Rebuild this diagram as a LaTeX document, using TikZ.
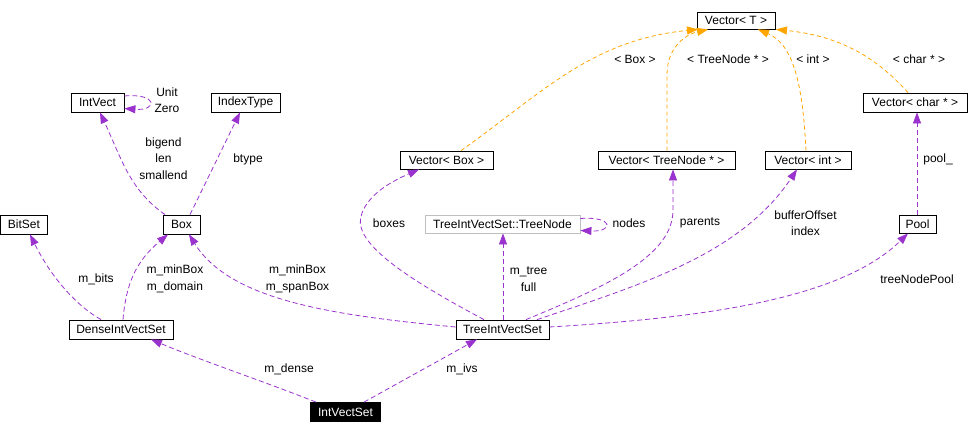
\documentclass[tikz,border=0pt]{standalone}
\usepackage{fontspec}
\setmainfont{Liberation Sans}
\usetikzlibrary{arrows.meta}
\definecolor{edgepurple}{HTML}{9A32CD}
\definecolor{edgeorange}{HTML}{FFA500}
\definecolor{graybox}{HTML}{BFBFBF}
\begin{document}
\begin{tikzpicture}[x=1pt,y=-1pt,
  cls/.style={draw, rectangle, inner sep=0pt, minimum height=19pt, line width=0.8pt, font=\fontsize{12}{14}\selectfont},
  lbl/.style={inner sep=0pt, align=center, font=\fontsize{12}{16.5}\selectfont},
  usearrow/.style={draw=edgepurple, line width=0.8pt, dash pattern=on 5pt off 3pt, -{Triangle[length=11pt,width=8pt]}},
  tmplarrow/.style={draw=edgeorange, line width=0.8pt, dash pattern=on 4pt off 3pt, -{Triangle[length=11pt,width=8pt]}}]
\useasboundingbox (0,0) rectangle (980,434);
% class nodes
\node[cls, minimum width=53pt] (intvect) at (97.5,102.5) {IntVect};
\node[cls, minimum width=69pt] (indextype) at (245.5,102.5) {IndexType};
\node[cls, minimum width=37pt] (box) at (181.5,224.5) {Box};
\node[cls, minimum width=47pt] (bitset) at (24,224.5) {BitSet};
\node[cls, minimum width=104pt] (dense) at (121,329.5) {DenseIntVectSet};
\node[cls, minimum width=70pt, fill=black, text=white] (ivs) at (345.5,412) {IntVectSet};
\node[cls, minimum width=93pt] (tree) at (502.5,329.5) {TreeIntVectSet};
\node[cls, minimum width=155pt, draw=graybox, minimum height=18pt] (treenode) at (502.5,224) {TreeIntVectSet::TreeNode};
\node[cls, minimum width=93pt, minimum height=18pt] (vecbox) at (446.5,160) {Vector< Box >};
\node[cls, minimum width=137pt, minimum height=18pt] (vectn) at (666.5,160) {Vector< TreeNode * >};
\node[cls, minimum width=86pt, minimum height=18pt] (vecint) at (808,160) {Vector< int >};
\node[cls, minimum width=78pt, minimum height=17pt] (vect) at (736,20.5) {Vector< T >};
\node[cls, minimum width=104pt] (vecchar) at (915,102.5) {Vector< char * >};
\node[cls, minimum width=37pt, minimum height=18pt] (pool) at (917.5,224) {Pool};
% usage edges
\draw[usearrow] (intvect.north east |- 0,96) .. controls (158,93) and (158,111) .. (intvect.south east |- 0,108.5);
\draw[usearrow] (box.north -| 165,0) .. controls (130,190) and (122,160) .. (intvect.south -| 100,0);
\draw[usearrow] (box.north -| 190,0) -- (indextype.south -| 240,0);
\draw[usearrow] (dense.north -| 101,0) .. controls (75,305) and (50,275) .. (bitset.south -| 30,0);
\draw[usearrow] (dense.north -| 123,0) .. controls (126,285) and (135,262) .. (box.south -| 168,0);
\draw[usearrow] (tree.west |- 0,327) .. controls (330,315) and (230,300) .. (box.south -| 189,0);
\draw[usearrow] (ivs.north -| 316,0) .. controls (260,380) and (200,360) .. (dense.south -| 151,0);
\draw[usearrow] (ivs.north -| 364,0) -- (tree.south -| 477,0);
\draw[usearrow] (tree.north -| 484,0) .. controls (400,275) and (350,240) .. (362,213) .. controls (370,192) and (395,180) .. (vecbox.south -| 419,0);
\draw[usearrow] (tree.north -| 503,0) -- (treenode.south -| 503,0);
\draw[usearrow] (treenode.east |- 0,218.5) .. controls (614,216) and (614,232) .. (treenode.east |- 0,230.5);
\draw[usearrow] (tree.north -| 526,0) .. controls (610,285) and (673,255) .. (673,210) -- (vectn.south -| 673,0);
\draw[usearrow] (tree.north -| 537,0) .. controls (640,285) and (740,255) .. (vecint.south -| 797,0);
\draw[usearrow] (tree.east |- 0,327) .. controls (700,318) and (840,300) .. (pool.south -| 908,0);
\draw[usearrow] (pool.north -| 917,0) -- (vecchar.south -| 917,0);
% template edges
\draw[tmplarrow] (vecbox.north -| 461,0) .. controls (540,95) and (590,40) .. (vect.south -| 698,0);
\draw[tmplarrow] (vectn.north -| 667,0) -- (667,75) .. controls (667,45) and (688,34) .. (vect.south -| 708,0);
\draw[tmplarrow] (vecint.north -| 806,0) .. controls (803,90) and (795,45) .. (vect.south -| 758,0);
\draw[tmplarrow] (vecchar.north -| 908,0) .. controls (870,50) and (830,35) .. (vect.south -| 776,0);
% labels
\node[lbl] (l1) at (167,100) {Unit\\Zero};
\node[lbl] (l2) at (163.5,158.5) {bigend\\len\\smallend};
\node[lbl] (l3) at (248,159) {btype};
\node[lbl] (l4) at (96,279) {m\_bits};
\node[lbl] (l5) at (175,279) {m\_minBox\\m\_domain};
\node[lbl] (l6) at (297.5,279) {m\_minBox\\m\_spanBox};
\node[lbl] (l7) at (289,369) {m\_dense};
\node[lbl] (l8) at (462,369) {m\_ivs};
\node[lbl] (l9) at (389,223) {boxes};
\node[lbl] (l10) at (528.5,279) {m\_tree\\full};
\node[lbl] (l11) at (629,223) {nodes};
\node[lbl] (l12) at (700,223) {parents};
\node[lbl] (l13) at (805.5,223) {bufferOffset\\index};
\node[lbl] (l14) at (917,279) {treeNodePool};
\node[lbl] (l15) at (938,159) {pool\_};
\node[lbl] (l16) at (635,59) {< Box >};
\node[lbl] (l17) at (728,59) {< TreeNode * >};
\node[lbl] (l18) at (813,59) {< int >};
\node[lbl] (l19) at (919,59) {< char * >};
\end{tikzpicture}
\end{document}
